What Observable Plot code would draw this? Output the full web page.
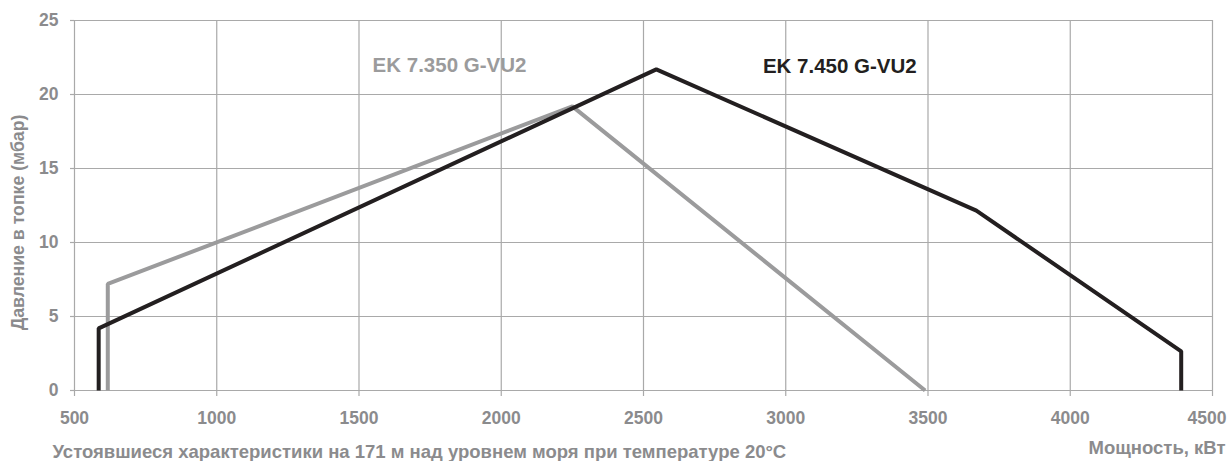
<!DOCTYPE html>
<html>
<head>
<meta charset="utf-8">
<script src="https://cdn.jsdelivr.net/npm/d3@7"></script>
<script src="https://cdn.jsdelivr.net/npm/@observablehq/plot@0.6"></script>
<style>
  html, body { margin: 0; padding: 0; background: #fff; }
  svg { display: block; }
</style>
</head>
<body>
<div id="chart"></div>
<script>
// Data
const seriesNames = ["EK 7.350 G-VU2", "EK 7.450 G-VU2"];
const ek350X = [617, 617, 2250, 3490];
const ek350Y = [0, 7.2, 19.2, 0];
const ek450X = [585, 585, 2545, 3670, 4390, 4390];
const ek450Y = [0, 4.2, 21.7, 12.15, 2.65, 0];
const xTicks = [500, 1000, 1500, 2000, 2500, 3000, 3500, 4000, 4500];
const yTicks = [0, 5, 10, 15, 20, 25];
const labelPos = [{name: seriesNames[0], x: 1818, y: 21.95}, {name: seriesNames[1], x: 3190, y: 21.9}];
const xLabel = "Мощность, кВт";
const yLabel = "Давление в топке (мбар)";
const caption = "Устоявшиеся характеристики на 171 м над уровнем моря при температуре 20°C";

const colors = {[seriesNames[0]]: "#9b9b9c", [seriesNames[1]]: "#231f20"};
const textGray = "#8b8b8d";
const gridGray = "#a9a9a9";

const rows = [
  ...ek350X.map((x, i) => ({series: seriesNames[0], x, y: ek350Y[i]})),
  ...ek450X.map((x, i) => ({series: seriesNames[1], x, y: ek450Y[i]}))
];
const lastTick = xTicks[xTicks.length - 1];

const chart = Plot.plot({
  width: 1229,
  height: 461,
  marginTop: 20,
  marginRight: 17,
  marginBottom: 71,
  marginLeft: 74,
  style: {fontFamily: "'Liberation Sans', Arial, sans-serif", fontWeight: "bold", color: textGray, background: "#fff"},
  x: {domain: [500, 4500]},
  y: {domain: [0, 25]},
  marks: [
    Plot.gridX(xTicks, {stroke: gridGray, strokeOpacity: 1, strokeWidth: 1.2}),
    Plot.gridY(yTicks, {stroke: gridGray, strokeOpacity: 1, strokeWidth: 1.2}),
    Plot.axisX(xTicks, {tickSize: 6, tickPadding: 15, stroke: gridGray, strokeWidth: 1.2, fill: textGray, fontSize: 17.5, tickFormat: d => d === lastTick ? "" : String(d), label: null}),
    Plot.axisX([lastTick], {tickSize: 0, tickPadding: 21, textAnchor: "end", dx: 14, fill: textGray, fontSize: 17.5, tickFormat: d => String(d), label: null}),
    Plot.axisY(yTicks, {tickSize: 4, tickPadding: 12, stroke: gridGray, strokeWidth: 1.2, fill: textGray, fontSize: 17.5, tickFormat: d => String(d), label: null}),
    Plot.line(rows, {x: "x", y: "y", z: "series", stroke: d => colors[d.series], strokeWidth: 4, strokeLinejoin: "miter", strokeLinecap: "butt"}),
    Plot.text(labelPos, {x: "x", y: "y", text: "name", fill: d => colors[d.name], fontSize: 20.5, fontWeight: "bold", fontFamily: "'Liberation Sans Narrow', 'Liberation Sans', Arial, sans-serif"}),
    Plot.text([xLabel], {frameAnchor: "bottom-right", text: d => d, textAnchor: "end", lineAnchor: "bottom", dx: 13, dy: 63, fontSize: 18.5, fill: textGray}),
    Plot.text([caption], {frameAnchor: "bottom-left", text: d => d, textAnchor: "start", lineAnchor: "bottom", dx: -22, dy: 67, fontSize: 18.5, fill: textGray}),
    Plot.text([yLabel], {frameAnchor: "left", text: d => d, rotate: -90, textAnchor: "middle", lineAnchor: "middle", dx: -56, dy: 17, fontSize: 17.7, fill: textGray})
  ]
});
document.getElementById("chart").appendChild(chart);
</script>
</body>
</html>
